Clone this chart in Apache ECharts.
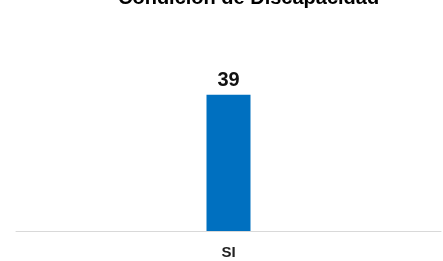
<!DOCTYPE html>
<html lang="es">
<head>
    <meta charset="UTF-8">
    <title>Condición de Discapacidad</title>
    <script src="https://cdn.jsdelivr.net/npm/echarts@6/dist/echarts.min.js"></script>
    <style>
        html, body { margin: 0; padding: 0; background: #fff; }
        #main { width: 443px; height: 261px; }
    </style>
</head>
<body>
<div id="main"></div>
<script type="text/javascript">
    // datos
    var categorias = ['SI'];
    var valores = [39];

    var myChart = echarts.init(document.getElementById('main'));
    var option = {
        animation: false,
        textStyle: { fontFamily: 'Liberation Sans, Arial, sans-serif' },
        title: {
            text: 'Condición de Discapacidad',
            left: 113,
            top: -17,
            textStyle: { fontSize: 20, fontWeight: 'bold', color: '#000' }
        },
        grid: { left: 16, right: 2, top: 39, bottom: 30 },
        xAxis: {
            type: 'category',
            data: categorias,
            axisTick: { show: false },
            axisLine: { lineStyle: { color: '#d9d9d9', width: 1 } },
            axisLabel: { color: '#222', fontSize: 15, fontWeight: 'bold', margin: 14 }
        },
        yAxis: {
            type: 'value',
            min: 0,
            max: 55,
            show: false,
            splitLine: { show: false }
        },
        series: [{
            name: 'Condición de Discapacidad',
            type: 'bar',
            data: valores,
            barWidth: 44,
            itemStyle: { color: '#0070C0' },
            label: {
                show: true,
                position: 'top',
                distance: 4,
                color: '#111',
                fontSize: 20,
                fontWeight: 'bold'
            }
        }]
    };
    myChart.setOption(option);
</script>
</body>
</html>
